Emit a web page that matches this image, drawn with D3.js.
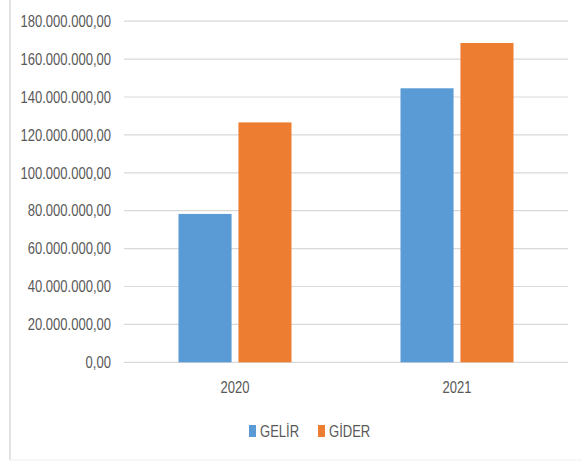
<!DOCTYPE html>
<html>
<head>
<meta charset="utf-8">
<script src="https://cdn.jsdelivr.net/npm/d3@7"></script>
<style>
  body { margin: 0; background: #fff; }
  text { font-family: "Liberation Sans", Arial, sans-serif; fill: #595959; }
</style>
</head>
<body>
<div id="chart"></div>
<script>
/** Categories, series and values. */
const years = ["2020", "2021"];
const series = ["GELİR", "GİDER"];
const gelir = [78300000, 144600000];
const gider = [126600000, 168500000];
const yTicks = [0, 20e6, 40e6, 60e6, 80e6, 100e6, 120e6, 140e6, 160e6, 180e6];

const colors = { "GELİR": "#5b9bd5", "GİDER": "#ed7d31" };

const W = 582, H = 461;
const plot = { left: 124, right: 568, top: 21.2, bottom: 362.3 };

/** The reference font is narrow, so squeeze the glyphs horizontally. */
const FONT_SIZE = 16.5;
const SQUEEZE = 0.79;
const narrow = (sel) => sel
    .attr("font-size", FONT_SIZE)
    .attr("font-family", null)
    .attr("fill", "#595959")
    .each(function () {
        const len = this.getComputedTextLength();
        d3.select(this)
            .attr("textLength", len * SQUEEZE)
            .attr("lengthAdjust", "spacingAndGlyphs");
    });

// Turkish number format: dots for thousands, comma for decimals
const trFormat = d3.formatLocale({ decimal: ",", thousands: ".", grouping: [3], currency: ["", ""] }).format(",.2f");

const svg = d3.select("#chart").append("svg")
    .attr("width", W)
    .attr("height", H);

// Frame on the left and bottom
svg.append("line")
    .attr("x1", 10).attr("x2", 10).attr("y1", 0).attr("y2", 460)
    .attr("stroke", "#d9d9d9").attr("stroke-width", 1.5);
svg.append("line")
    .attr("x1", 10).attr("x2", W).attr("y1", 460).attr("y2", 460)
    .attr("stroke", "#f0f0f0").attr("stroke-width", 1);

const y = d3.scaleLinear()
    .domain([0, 180e6])
    .range([plot.bottom, plot.top]);

const x0 = d3.scaleBand()
    .domain(years)
    .range([plot.left, plot.right]);

const x1 = d3.scaleBand()
    .domain(series)
    .range([0, 113])
    .paddingInner(0.115);

// Gridlines
svg.append("g")
    .selectAll("line")
    .data(yTicks)
    .enter()
    .append("line")
    .attr("x1", plot.left)
    .attr("x2", plot.right)
    .attr("y1", d => y(d))
    .attr("y2", d => y(d))
    .attr("stroke", "#d9d9d9")
    .attr("stroke-width", 1.2);

// Y axis labels
const yAxis = d3.axisLeft(y).tickValues(yTicks).tickFormat(trFormat).tickSize(0).tickPadding(13);
svg.append("g")
    .attr("transform", `translate(${plot.left},0)`)
    .call(yAxis)
    .call(g => g.select(".domain").remove())
    .selectAll("text")
    .call(narrow);

// Bars
const rows = years.map((yr, i) => ({ year: yr, values: [gelir[i], gider[i]] }));
const groups = svg.append("g")
    .selectAll("g")
    .data(rows)
    .enter()
    .append("g")
    .attr("transform", d => `translate(${x0(d.year) + (x0.bandwidth() - 113) / 2},0)`);

groups.selectAll("rect")
    .data(d => series.map((s, j) => ({ key: s, value: d.values[j] })))
    .enter()
    .append("rect")
    .attr("x", d => x1(d.key))
    .attr("width", x1.bandwidth())
    .attr("y", d => y(d.value))
    .attr("height", d => y(0) - y(d.value))
    .attr("fill", d => colors[d.key]);

// X axis labels
const xAxis = d3.axisBottom(x0).tickSize(0).tickPadding(19);
svg.append("g")
    .attr("transform", `translate(0,${plot.bottom})`)
    .call(xAxis)
    .call(g => g.select(".domain").remove())
    .selectAll("text")
    .call(narrow);

// Legend
const legendX = [249, 318];
const legend = svg.append("g")
    .selectAll("g")
    .data(series)
    .enter()
    .append("g")
    .attr("transform", (d, i) => `translate(${legendX[i]},425)`);

legend.append("rect")
    .attr("width", 7)
    .attr("height", 12)
    .attr("fill", d => colors[d]);

legend.append("text")
    .attr("x", 11)
    .attr("y", 12)
    .text(d => d)
    .call(narrow);
</script>
</body>
</html>
